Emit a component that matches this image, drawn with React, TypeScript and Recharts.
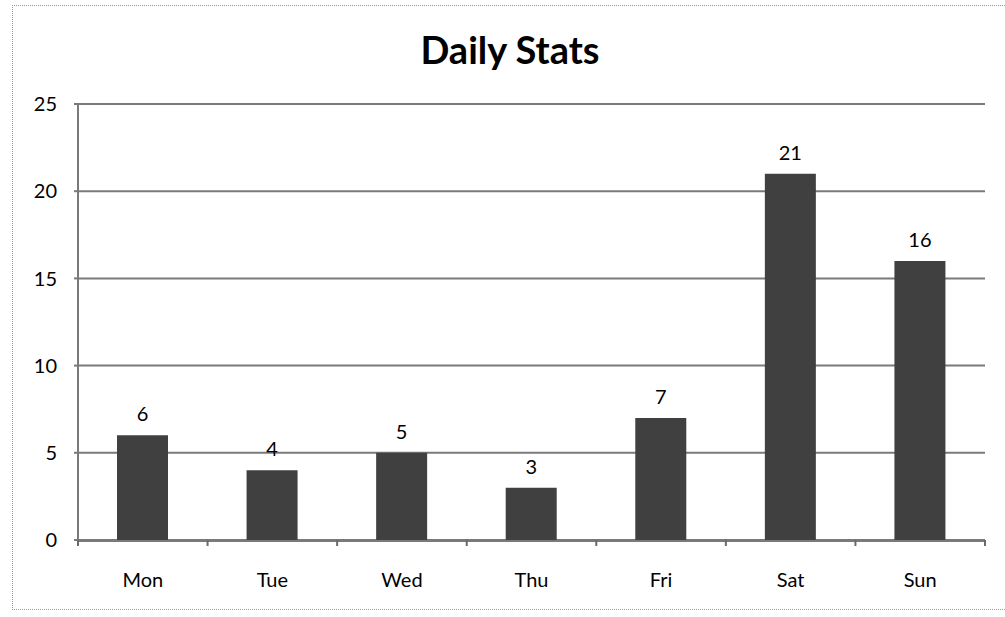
import { BarChart, Bar, XAxis, YAxis, CartesianGrid, LabelList } from 'recharts';

const days = ['Mon', 'Tue', 'Wed', 'Thu', 'Fri', 'Sat', 'Sun'];
const counts = [6, 4, 5, 3, 7, 21, 16];
const yTicks = [0, 5, 10, 15, 20, 25];
const dayEdges = [0, 1, 2, 3, 4, 5, 6, 7];

const data = days.map((day, i) => ({ day, count: counts[i], edge: i }));

const font = 'Lato, "Open Sans", sans-serif';

const EdgeMark = (props: any) => {
    const { x, y } = props;
    return <line x1={x} x2={x} y1={y} y2={y + 6} stroke="#6a6a6a" strokeWidth={2} />;
};

const App = () => {
    return <div style={{ position: 'absolute', left: 0, top: 0, width: 1005, height: 617, background: '#fff', fontFamily: font }}>
        <div style={{
            position: 'absolute', left: 12, top: 5, width: 1005, height: 605,
            border: '1px dotted #999', borderRight: 'none', boxSizing: 'border-box'
        }} />
        <div style={{
            position: 'absolute', left: 0, top: 30, width: 1020, textAlign: 'center',
            fontSize: 38, lineHeight: '38px', fontWeight: 700, color: '#000'
        }}>Daily Stats</div>
        <div style={{ position: 'absolute', left: 0, top: 0 }}>
            <BarChart
                width={1005}
                height={617}
                data={data}
                margin={{ top: 104, right: 20, left: 18, bottom: 0 }}
            >
                <CartesianGrid vertical={false} stroke="#7a7a7a" strokeWidth={2} />
                {/* small marks between the days */}
                <XAxis
                    dataKey="edge"
                    type="number"
                    domain={[0, 7]}
                    ticks={dayEdges}
                    interval={0}
                    allowDataOverflow
                    height={1}
                    axisLine={false}
                    tickLine={false}
                    tickSize={0}
                    tickMargin={0}
                    tick={EdgeMark}
                />
                <XAxis
                    xAxisId="days"
                    dataKey="day"
                    axisLine={{ stroke: '#7a7a7a', strokeWidth: 2 }}
                    tickLine={false}
                    tickSize={5}
                    tickMargin={27}
                    tick={{ fill: '#000', fontSize: 20, fontFamily: font }}
                    height={76}
                />
                <YAxis
                    domain={[0, 25]}
                    ticks={yTicks}
                    width={60}
                    axisLine={{ stroke: '#7a7a7a', strokeWidth: 2 }}
                    tickLine={{ stroke: '#7a7a7a', strokeWidth: 2 }}
                    tickSize={4}
                    tickMargin={17}
                    tick={{ fill: '#000', fontSize: 20, fontFamily: font }}
                />
                <Bar xAxisId="days" dataKey="count" fill="#404040" barSize={51} isAnimationActive={false}>
                    <LabelList dataKey="count" position="top" offset={14} fill="#000" fontSize={20} fontFamily={font} />
                </Bar>
            </BarChart>
        </div>
    </div>
}
export default App
